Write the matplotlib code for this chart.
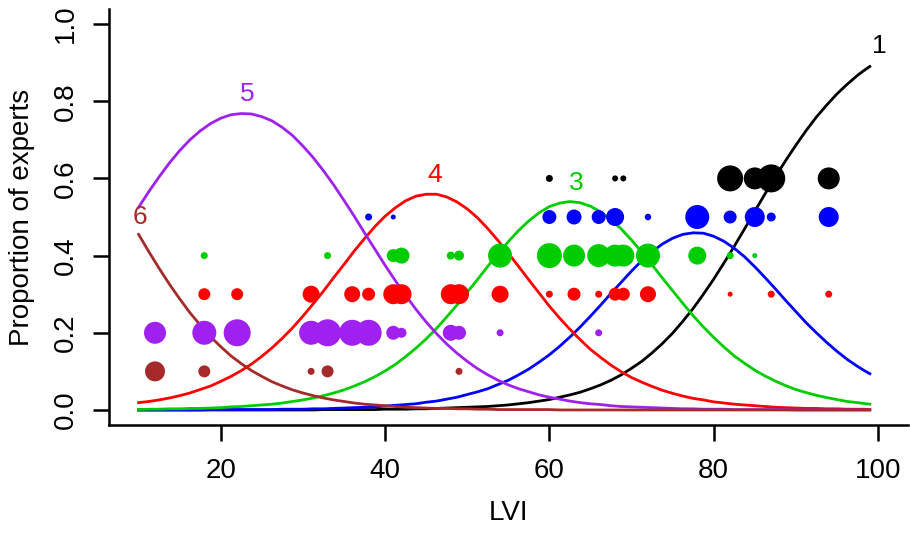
import matplotlib.pyplot as plt
import numpy as np

plt.rcParams['font.family'] = ['Liberation Sans', 'DejaVu Sans']

# fitted probability of each rating category along the LVI axis
lvi = [10, 11.25, 12.5, 13.75, 15, 16.25, 17.5, 18.75,
       20, 21.25, 22.5, 23.75, 25, 26.25, 27.5, 28.75,
       30, 31.25, 32.5, 33.75, 35, 36.25, 37.5, 38.75,
       40, 41.25, 42.5, 43.75, 45, 46.25, 47.5, 48.75,
       50, 51.25, 52.5, 53.75, 55, 56.25, 57.5, 58.75,
       60, 61.25, 62.5, 63.75, 65, 66.25, 67.5, 68.75,
       70, 71.25, 72.5, 73.75, 75, 76.25, 77.5, 78.75,
       80, 81.25, 82.5, 83.75, 85, 86.25, 87.5, 88.75,
       90, 91.25, 92.5, 93.75, 95, 96.25, 97.5, 98.25, 99]

prob_1 = [0.000, 0.000, 0.000, 0.000, 0.000, 0.000, 0.000, 0.000,
          0.000, 0.000, 0.000, 0.000, 0.000, 0.000, 0.000, 0.000,
          0.000, 0.000, 0.001, 0.001, 0.001, 0.001, 0.001, 0.001,
          0.002, 0.002, 0.002, 0.003, 0.003, 0.004, 0.005, 0.006,
          0.007, 0.008, 0.009, 0.011, 0.013, 0.016, 0.019, 0.023,
          0.027, 0.033, 0.039, 0.046, 0.055, 0.065, 0.077, 0.091,
          0.108, 0.126, 0.148, 0.172, 0.199, 0.230, 0.263, 0.300,
          0.339, 0.381, 0.424, 0.469, 0.515, 0.560, 0.604, 0.646,
          0.686, 0.724, 0.759, 0.790, 0.819, 0.844, 0.867, 0.879, 0.890]
prob_2 = [0.000, 0.000, 0.000, 0.000, 0.000, 0.000, 0.000, 0.001,
          0.001, 0.001, 0.001, 0.001, 0.001, 0.001, 0.002, 0.002,
          0.002, 0.003, 0.003, 0.004, 0.005, 0.006, 0.007, 0.008,
          0.010, 0.012, 0.014, 0.016, 0.020, 0.023, 0.028, 0.033,
          0.040, 0.047, 0.055, 0.066, 0.077, 0.091, 0.106, 0.124,
          0.143, 0.165, 0.189, 0.215, 0.243, 0.272, 0.302, 0.331,
          0.360, 0.387, 0.410, 0.430, 0.445, 0.455, 0.459, 0.458,
          0.450, 0.437, 0.419, 0.397, 0.371, 0.343, 0.314, 0.284,
          0.255, 0.226, 0.200, 0.175, 0.152, 0.131, 0.113, 0.103, 0.094]
prob_3 = [0.001, 0.002, 0.002, 0.003, 0.003, 0.004, 0.004, 0.005,
          0.006, 0.008, 0.009, 0.011, 0.013, 0.015, 0.018, 0.022,
          0.026, 0.031, 0.037, 0.044, 0.052, 0.062, 0.073, 0.086,
          0.101, 0.118, 0.138, 0.160, 0.184, 0.211, 0.241, 0.272,
          0.305, 0.338, 0.372, 0.405, 0.436, 0.465, 0.490, 0.511,
          0.527, 0.536, 0.540, 0.537, 0.528, 0.513, 0.493, 0.469,
          0.440, 0.409, 0.376, 0.342, 0.309, 0.276, 0.244, 0.215,
          0.188, 0.163, 0.140, 0.121, 0.103, 0.088, 0.075, 0.063,
          0.053, 0.045, 0.038, 0.032, 0.027, 0.022, 0.019, 0.017, 0.015]
prob_4 = [0.019, 0.022, 0.026, 0.031, 0.037, 0.044, 0.053, 0.062,
          0.074, 0.087, 0.102, 0.119, 0.139, 0.161, 0.186, 0.213,
          0.243, 0.275, 0.308, 0.343, 0.377, 0.412, 0.444, 0.475,
          0.502, 0.524, 0.542, 0.554, 0.559, 0.559, 0.552, 0.539,
          0.521, 0.498, 0.470, 0.439, 0.406, 0.372, 0.337, 0.303,
          0.269, 0.238, 0.209, 0.182, 0.157, 0.136, 0.116, 0.099,
          0.084, 0.072, 0.061, 0.051, 0.043, 0.036, 0.030, 0.026,
          0.021, 0.018, 0.015, 0.013, 0.011, 0.009, 0.007, 0.006,
          0.005, 0.004, 0.004, 0.003, 0.003, 0.002, 0.002, 0.002, 0.001]
prob_5 = [0.525, 0.566, 0.604, 0.640, 0.672, 0.700, 0.723, 0.742,
          0.756, 0.765, 0.768, 0.767, 0.760, 0.749, 0.732, 0.711,
          0.684, 0.654, 0.620, 0.583, 0.543, 0.502, 0.459, 0.417,
          0.375, 0.335, 0.297, 0.261, 0.228, 0.198, 0.171, 0.147,
          0.126, 0.107, 0.091, 0.077, 0.065, 0.055, 0.047, 0.039,
          0.033, 0.028, 0.023, 0.019, 0.016, 0.014, 0.011, 0.009,
          0.008, 0.007, 0.006, 0.005, 0.004, 0.003, 0.003, 0.002,
          0.002, 0.002, 0.001, 0.001, 0.001, 0.001, 0.001, 0.001,
          0.000, 0.000, 0.000, 0.000, 0.000, 0.000, 0.000, 0.000, 0.000]
prob_6 = [0.455, 0.410, 0.367, 0.326, 0.288, 0.252, 0.220, 0.190,
          0.164, 0.140, 0.120, 0.102, 0.087, 0.073, 0.062, 0.052,
          0.044, 0.037, 0.031, 0.026, 0.022, 0.018, 0.015, 0.013,
          0.011, 0.009, 0.007, 0.006, 0.005, 0.004, 0.004, 0.003,
          0.003, 0.002, 0.002, 0.001, 0.001, 0.001, 0.001, 0.001,
          0.001, 0.000, 0.000, 0.000, 0.000, 0.000, 0.000, 0.000,
          0.000, 0.000, 0.000, 0.000, 0.000, 0.000, 0.000, 0.000,
          0.000, 0.000, 0.000, 0.000, 0.000, 0.000, 0.000, 0.000,
          0.000, 0.000, 0.000, 0.000, 0.000, 0.000, 0.000, 0.000, 0.000]

# observed ratings: LVI of each site and share of experts giving that rating
obs_lvi_1 = [60, 68, 69, 82, 85, 87, 94]
obs_share_1 = [0.14, 0.12, 0.12, 0.52, 0.44, 0.56, 0.44]
obs_lvi_2 = [38, 41, 60, 63, 66, 68, 72, 78, 82, 85, 87, 94]
obs_share_2 = [0.14, 0.10, 0.28, 0.30, 0.28, 0.36, 0.13, 0.48, 0.26, 0.40, 0.18, 0.40]
obs_lvi_3 = [18, 33, 41, 42, 48, 49, 54, 60, 63, 66, 68, 69, 72, 78, 82, 85]
obs_share_3 = [0.14, 0.14, 0.26, 0.32, 0.16, 0.20, 0.48, 0.50, 0.44, 0.46, 0.44,
               0.44, 0.48, 0.36, 0.14, 0.10]
obs_lvi_4 = [18, 22, 31, 36, 38, 41, 42, 48, 49, 54, 60, 63, 66, 68, 69, 72, 82, 87, 94]
obs_share_4 = [0.24, 0.24, 0.34, 0.32, 0.26, 0.40, 0.40, 0.40, 0.40, 0.34, 0.14,
               0.26, 0.14, 0.26, 0.26, 0.32, 0.10, 0.14, 0.14]
obs_lvi_5 = [12, 18, 22, 31, 33, 36, 38, 41, 42, 48, 49, 54, 66]
obs_share_5 = [0.44, 0.48, 0.54, 0.48, 0.54, 0.52, 0.52, 0.28, 0.20, 0.32, 0.28, 0.14, 0.14]
obs_lvi_6 = [12, 18, 31, 33, 49]
obs_share_6 = [0.40, 0.24, 0.14, 0.24, 0.14]

# rating categories are stacked at these heights
rows = [0.6, 0.5, 0.4, 0.3, 0.2, 0.1]

colours = ['black', '#0000FF', '#00CD00', '#FF0000', '#A020F0', '#A52A2A']
curves = [prob_1, prob_2, prob_3, prob_4, prob_5, prob_6]
obs = [(obs_lvi_1, obs_share_1), (obs_lvi_2, obs_share_2), (obs_lvi_3, obs_share_3),
       (obs_lvi_4, obs_share_4), (obs_lvi_5, obs_share_5), (obs_lvi_6, obs_share_6)]

fig = plt.figure(figsize=(9.1, 5.35), dpi=100)
ax = fig.add_axes([109 / 910, 1 - 425.4 / 535, 798.6 / 910, 416.8 / 535])

for curve, col in zip(curves, colours):
    ax.plot(lvi, curve, color=col, lw=2.0, zorder=2)

# category numbers above the curves (none for 2, its peak is under the dots)
ax.text(100.2, 0.942, '1', color=colours[0], fontsize=19, ha='center', va='center')
ax.text(63.3, 0.589, '3', color=colours[2], fontsize=19, ha='center', va='center')
ax.text(46.1, 0.609, '4', color=colours[3], fontsize=19, ha='center', va='center')
ax.text(23.2, 0.819, '5', color=colours[4], fontsize=19, ha='center', va='center')
ax.text(10.2, 0.500, '6', color=colours[5], fontsize=19, ha='center', va='center')

# dot diameter: 50 px for the whole panel of experts
for (xs, share), row, col in zip(obs, rows, colours):
    diam_pt = np.array(share) * 50 * 0.72
    ax.scatter(xs, [row] * len(xs), s=diam_pt ** 2, color=col,
               edgecolors='none', zorder=3)

ax.set_xlim(6.4, 103.6)
ax.set_ylim(-0.04, 1.04)
ax.set_xticks([20, 40, 60, 80, 100])
ax.set_yticks([0, 0.2, 0.4, 0.6, 0.8, 1.0])
ax.set_yticklabels(['0.0', '0.2', '0.4', '0.6', '0.8', '1.0'], rotation=90, va='center')

for side in ['top', 'right']:
    ax.spines[side].set_visible(False)
for side in ['left', 'bottom']:
    ax.spines[side].set_linewidth(1.8)
ax.tick_params(axis='both', length=11.5, width=1.8, labelsize=20)
ax.tick_params(axis='x', pad=12)
ax.tick_params(axis='y', pad=10)

ax.set_xlabel('LVI', fontsize=20)
ax.set_ylabel('Proportion of experts', fontsize=20)
ax.xaxis.set_label_coords(0.5, -0.18)
ax.yaxis.set_label_coords(-0.0927, 0.5)

plt.savefig('out.png', dpi=100)
